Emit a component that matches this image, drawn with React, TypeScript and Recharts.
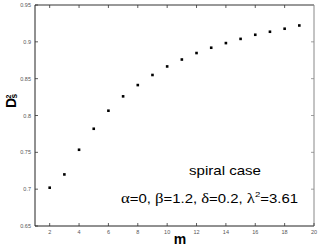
import React from 'react';
import { ScatterChart, Scatter, XAxis, YAxis } from 'recharts';

// values
const mValues = [2, 3, 4, 5, 6, 7, 8, 9, 10, 11, 12, 13, 14, 15, 16, 17, 18, 19];
const dsSquared = [
  0.702, 0.72, 0.7535, 0.782, 0.8065, 0.826, 0.8413, 0.855, 0.8666,
  0.876, 0.8848, 0.892, 0.8983, 0.904, 0.9096, 0.9137, 0.9178, 0.9222,
];
const xTicks = [2, 4, 6, 8, 10, 12, 14, 16, 18, 20];
const topTicks = [2, 4, 6, 8, 10, 12, 14, 16, 18];
const yTicks = [0.65, 0.7, 0.75, 0.8, 0.85, 0.9, 0.95];
const sideTicks = [0.7, 0.75, 0.8, 0.85, 0.9];
const caseLabel = 'spiral case';

const data = mValues.map((m, i) => ({ m, ds: dsSquared[i] }));

const SANS = '"Liberation Sans", Arial, sans-serif';
const SERIF = '"Liberation Serif", "Times New Roman", serif';
const tickColor = '#555';

const fmt = (v: number) => String(Math.round(v * 100) / 100);

const BottomTick = (props: any) => {
  const { x, y, payload } = props;
  return (
    <g>
      <line x1={x} y1={y} x2={x} y2={y - 3} stroke="#333" strokeWidth={0.8} />
      <text x={x} y={y + 8} textAnchor="middle" fontSize={5.5} fill={tickColor} fontFamily={SANS}>
        {fmt(payload.value)}
      </text>
    </g>
  );
};

const LeftTick = (props: any) => {
  const { x, y, payload } = props;
  return (
    <g>
      <line x1={x} y1={y} x2={x + 3} y2={y} stroke="#333" strokeWidth={0.8} />
      <text x={x - 4} y={y + 2} textAnchor="end" fontSize={5.5} fill={tickColor} fontFamily={SANS}>
        {fmt(payload.value)}
      </text>
    </g>
  );
};

const TopTick = (props: any) => {
  const { x, y } = props;
  return <line x1={x} y1={y} x2={x} y2={y + 3} stroke="#333" strokeWidth={0.8} />;
};

const RightTick = (props: any) => {
  const { x, y } = props;
  return <line x1={x} y1={y} x2={x - 3} y2={y} stroke="#888" strokeWidth={0.8} />;
};

const Marker = (props: any) => {
  const { cx, cy } = props;
  return <rect x={cx - 1.3} y={cy - 1.3} width={2.6} height={2.6} fill="#000" />;
};

const NoMarker = () => <g />;

const YTitle = () => (
  <g transform="translate(16,108) rotate(-90)" fontFamily={SANS} fontWeight="bold" fill="#000">
    <text x={0} y={0} fontSize={14}>D</text>
    <text x={9.5} y={-5.5} fontSize={7}>2</text>
    <text x={9.5} y={1} fontSize={8.5}>s</text>
  </g>
);

const Notes = () => (
  <g fill="#000">
    <text x={189} y={175} fontSize={13} fontFamily={SANS} textLength={72} lengthAdjust="spacingAndGlyphs">
      {caseLabel}
    </text>
    <text x={121} y={203} fontSize={12.5} fontFamily={SANS} textLength={177} lengthAdjust="spacingAndGlyphs">
      <tspan fontFamily={SERIF} fontSize={14}>α</tspan>
      <tspan>=0, </tspan>
      <tspan fontFamily={SERIF} fontSize={14}>β</tspan>
      <tspan>=1.2, </tspan>
      <tspan fontFamily={SERIF} fontSize={14}>δ</tspan>
      <tspan>=0.2, </tspan>
      <tspan fontFamily={SERIF} fontSize={14}>λ</tspan>
      <tspan dy={-6} fontSize={8}>2</tspan>
      <tspan dy={6}>=3.61</tspan>
    </text>
    <text x={180} y={243.5} textAnchor="middle" fontSize={14} fontWeight="bold" fontFamily={SANS}>
      m
    </text>
  </g>
);

export default function App() {
  return (
    <div style={{ position: 'absolute', left: 0, top: 0, width: 320, height: 248, background: '#fff' }}>
      <ScatterChart width={320} height={248} margin={{ top: 4, right: 5, bottom: 0, left: 0 }}>
        <XAxis
          xAxisId="bottom"
          dataKey="m"
          type="number"
          domain={[1, 20]}
          ticks={xTicks}
          interval={0}
          height={22}
          tickSize={0}
          tickMargin={0}
          tickLine={false}
          tick={<BottomTick />}
          axisLine={{ stroke: '#222', strokeWidth: 1 }}
          allowDataOverflow
          label={<Notes />}
        />
        <XAxis
          xAxisId="top"
          orientation="top"
          dataKey="m"
          type="number"
          domain={[1, 20]}
          ticks={topTicks}
          interval={0}
          height={1}
          tickSize={0}
          tickMargin={0}
          tickLine={false}
          tick={<TopTick />}
          axisLine={{ stroke: '#333', strokeWidth: 1 }}
          allowDataOverflow
        />
        <YAxis
          yAxisId="left"
          dataKey="ds"
          type="number"
          domain={[0.65, 0.95]}
          ticks={yTicks}
          interval={0}
          width={35}
          tickSize={0}
          tickMargin={0}
          tickLine={false}
          tick={<LeftTick />}
          axisLine={{ stroke: '#222', strokeWidth: 1 }}
          allowDataOverflow
          label={<YTitle />}
        />
        <YAxis
          yAxisId="right"
          orientation="right"
          dataKey="ds"
          type="number"
          domain={[0.65, 0.95]}
          ticks={sideTicks}
          interval={0}
          width={1}
          tickSize={0}
          tickMargin={0}
          tickLine={false}
          tick={<RightTick />}
          axisLine={{ stroke: '#888', strokeWidth: 1 }}
          allowDataOverflow
        />
        {/* invisible series so the top and right frame axes get drawn */}
        <Scatter
          data={data}
          xAxisId="top"
          yAxisId="right"
          shape={<NoMarker />}
          isAnimationActive={false}
        />
        <Scatter
          data={data}
          xAxisId="bottom"
          yAxisId="left"
          shape={<Marker />}
          isAnimationActive={false}
        />
      </ScatterChart>
    </div>
  );
}
